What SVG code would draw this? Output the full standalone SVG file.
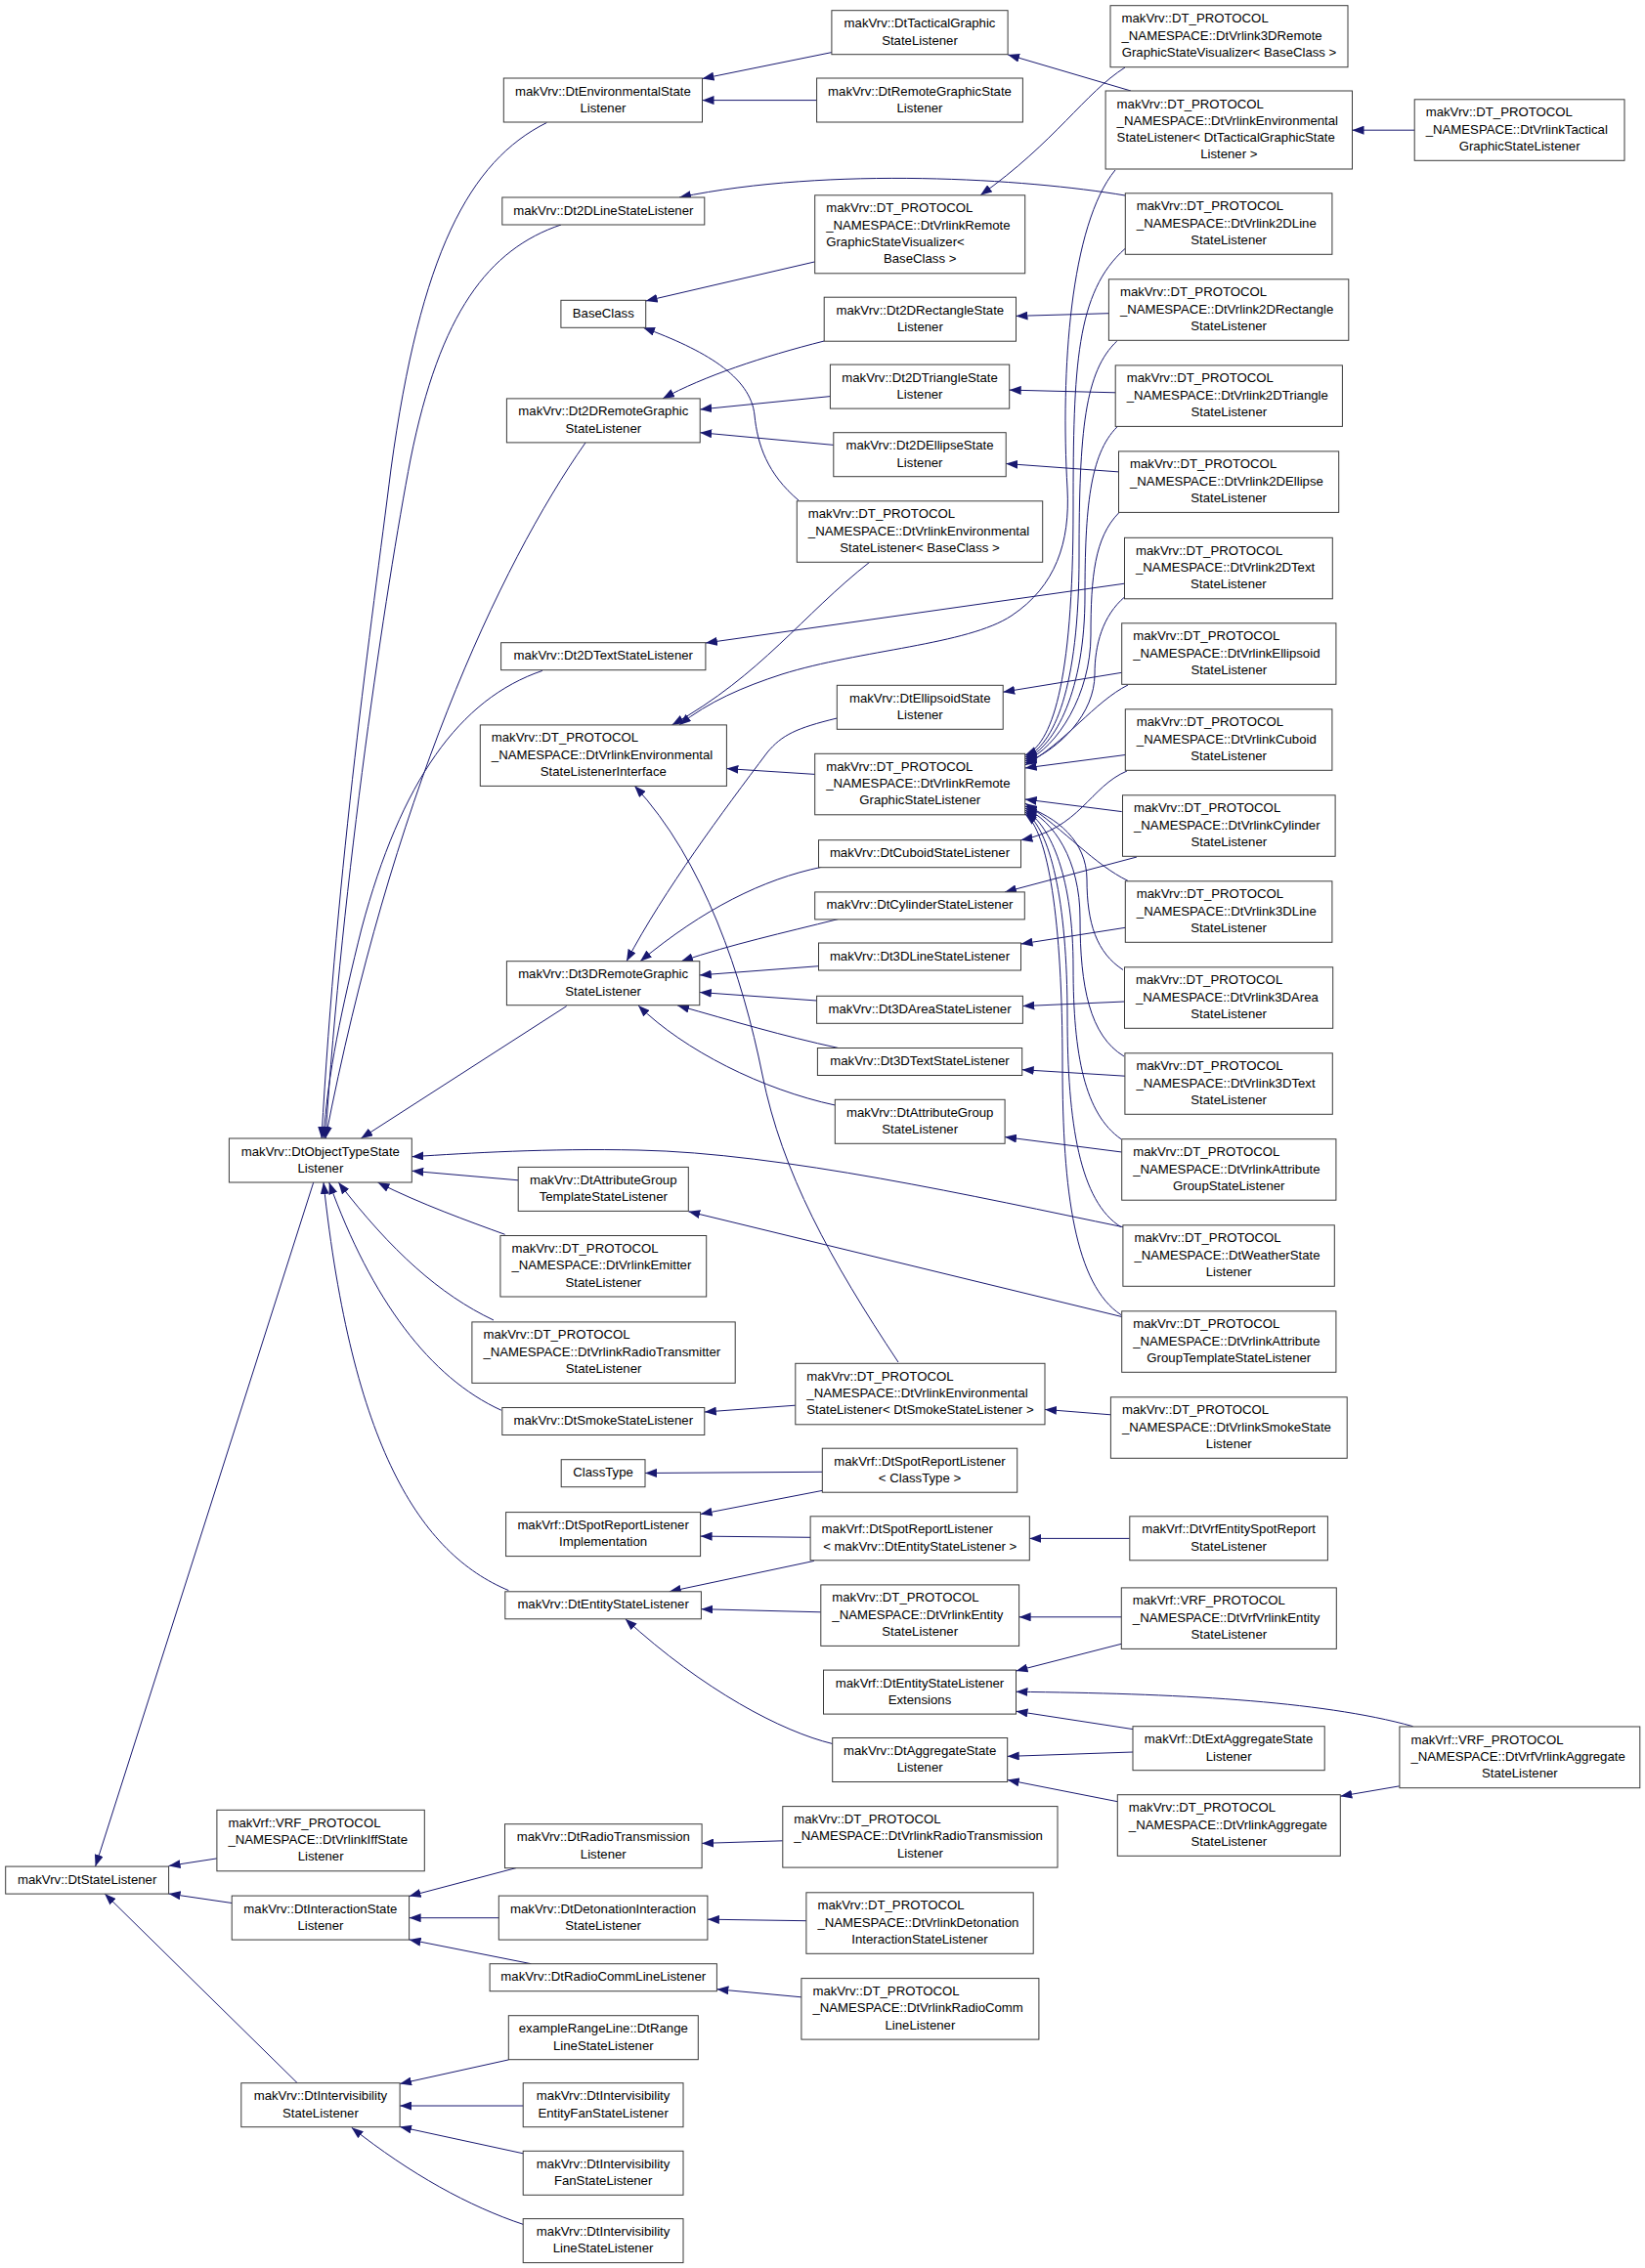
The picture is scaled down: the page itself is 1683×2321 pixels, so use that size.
<svg xmlns="http://www.w3.org/2000/svg" width="1683" height="2321" viewBox="0 0 1683 2321">
<style>
.n rect{fill:#fff;stroke:#3a3a3a;stroke-width:1}
.n text{font-family:"Liberation Sans",Arial,Helvetica,sans-serif;font-size:13.2px;fill:#000}
.n text.c{text-anchor:middle}
#edges path{fill:none;stroke:#191970;stroke-width:1;marker-end:url(#a)}
</style>
<defs>
<marker id="a" markerUnits="userSpaceOnUse" markerWidth="12" markerHeight="9" refX="12" refY="4.5" orient="auto" viewBox="0 0 12 9"><path d="M0,0 L12,4.5 L0,9 z" fill="#191970"/></marker>
</defs>
<rect width="1683" height="2321" fill="#fff"/>
<g id="edges">
<path d="M850.9,53.6 L718.5,80.5"/>
<path d="M835.6,102.6 L718.5,102.6"/>
<path d="M1157,93 L1031.1,55.9"/>
<path d="M1447.2,133.2 L1383.5,133.2"/>
<path d="M1151,69 C1110,95 1080,145 1003,199.8"/>
<path d="M833.7,267.9 L660.7,308"/>
<path d="M1151,200 C1050,183 850,170 695,202"/>
<path d="M817,512 C785,485 775,455 772,425 C768,385 720,358 658,335.2"/>
<path d="M843.2,349 C780,365 720,385 678,407.9"/>
<path d="M849.4,405.6 L716.2,419"/>
<path d="M852.8,455.4 L716.2,442.7"/>
<path d="M1134.4,320.7 L1039.5,323.4"/>
<path d="M1141.2,401.8 L1032.7,399.1"/>
<path d="M1144.5,482.9 L1029.2,474.5"/>
<path d="M1150.5,597.2 L721.9,658"/>
<path d="M1147.7,688.3 L1026.2,708.2"/>
<path d="M1153,789 C1115,805 1105,848 1044.5,859.7"/>
<path d="M1163,877 L1028,912.9"/>
<path d="M1151.3,949.3 L1044.5,966"/>
<path d="M1150.5,1025 L1046.4,1029.6"/>
<path d="M1151,1101.2 L1045.7,1094.7"/>
<path d="M1147.7,1179 L1028.1,1163.6"/>
<path d="M1149,1255.7 C1000,1225 800,1180 653,1177 C560,1175 480,1180 421.3,1183.7"/>
<path d="M1147.7,1347.5 L704.3,1239.8"/>
<path d="M530.2,1207.8 L421.3,1198.3"/>
<path d="M516.6,1263.3 C480,1250 430,1232 386.5,1210.1"/>
<path d="M505,1351 C450,1325 400,1280 346.3,1210.1"/>
<path d="M512.8,1443.2 C440,1410 380,1330 336.7,1210.1"/>
<path d="M520.4,1627.6 C430,1590 360,1480 331,1210.1"/>
<path d="M320.7,1210.1 L97.6,1910.1"/>
<path d="M221.9,1901.9 L172.6,1909.5"/>
<path d="M237.2,1947.5 L172.6,1938"/>
<path d="M304.2,2131.7 L107.1,1937.9"/>
<path d="M528,1911.6 L418.6,1940.5"/>
<path d="M510.8,1962.7 L418.6,1962.7"/>
<path d="M543.4,2009.7 L418.6,1984.9"/>
<path d="M520.4,2107.9 L409.1,2132.5"/>
<path d="M535.7,2155 L409.1,2155"/>
<path d="M535.7,2203.9 L409.1,2176.5"/>
<path d="M535.7,2276.5 C480,2258 420,2225 359.7,2177.2"/>
<path d="M800.8,1883.8 L718.1,1886.4"/>
<path d="M824.9,1965.7 L723.9,1964.2"/>
<path d="M819.9,2043.8 L733.4,2035.7"/>
<path d="M559.4,125.5 C480,165 430,260 400,480 C380,640 345,880 329,1165"/>
<path d="M574,230 C500,255 450,320 420,470 C395,600 350,900 333,1165"/>
<path d="M599,453 C510,580 400,820 333,1165"/>
<path d="M554.9,686.4 C470,715 410,800 370,950 C350,1030 335,1100 331,1165"/>
<path d="M579.7,1029.6 L369.3,1165"/>
<path d="M833.7,792.4 L743.4,786.6"/>
<path d="M890,575 C820,630 780,690 687.5,741.9"/>
<path d="M1141,174 C1095,230 1085,380 1092,500 C1095,555 1080,600 1035,630 C990,660 880,665 800,690 C760,703 725,718 695,741.9"/>
<path d="M919,1394 C850,1290 800,1200 780,1100 C760,1000 720,880 649.2,804.2"/>
<path d="M856.3,735 C815,745 800,752 785,770 C740,830 680,910 641,983.7"/>
<path d="M840.6,887.3 C780,900 720,930 655,983.7"/>
<path d="M857.8,940.5 C800,955 750,966 697,983.7"/>
<path d="M837.5,988.7 L715.8,997.9"/>
<path d="M835.6,1024 L715.8,1015.5"/>
<path d="M857.8,1072.5 C800,1060 750,1045 693.2,1028.9"/>
<path d="M854.3,1131 C780,1115 700,1075 653,1028.9"/>
<path d="M813.8,1438.2 L720.8,1445"/>
<path d="M1136.4,1447.8 L1069,1442.4"/>
<path d="M841.3,1506.3 L660,1507.5"/>
<path d="M841.3,1525.4 L716.6,1549.5"/>
<path d="M829.1,1573.3 L716.6,1572.1"/>
<path d="M832.9,1597.4 L684.8,1628.8"/>
<path d="M1155.8,1574.4 L1053.3,1574.4"/>
<path d="M839.8,1649.8 L717.4,1646.7"/>
<path d="M1147.3,1654.8 L1042.6,1654.8"/>
<path d="M1147.3,1682.3 L1039.5,1710"/>
<path d="M1445.6,1766.7 C1350,1740 1200,1733 1039.5,1731.3"/>
<path d="M1159,1769.6 L1039.5,1751.2"/>
<path d="M851.7,1784.5 C800,1772 720,1730 639.7,1656.7"/>
<path d="M1159,1793 L1030.7,1797.4"/>
<path d="M1143.3,1843.7 L1030.7,1821.5"/>
<path d="M1431.9,1827.8 L1371.3,1838.2"/>
<path d="M1151,254.5 C1101,299 1098,375 1098,520 C1098,704 1075,762 1048.7,773"/>
<path d="M1142.8,349 C1110,380 1104,440 1104,570 C1104,705 1078,763 1048.7,775"/>
<path d="M1142.8,437 C1115,465 1110,520 1110,610 C1110,706 1080,764 1048.7,777"/>
<path d="M1144.5,525 C1120,550 1116,590 1116,650 C1116,710 1082,765 1048.7,779"/>
<path d="M1151,610.6 C1128,630 1120,660 1120,690 C1120,730 1085,766 1048.7,781"/>
<path d="M1154,701 C1120,718 1090,760 1048.7,783"/>
<path d="M1151.3,772.5 L1048.7,786"/>
<path d="M1147.7,830.6 L1048.7,818"/>
<path d="M1154,901.4 C1120,885 1090,850 1048.7,822"/>
<path d="M1149,992.5 C1122,975 1112,945 1112,900 C1112,860 1080,836 1048.7,825"/>
<path d="M1150,1081 C1115,1060 1105,1010 1105,940 C1105,880 1078,840 1048.7,827"/>
<path d="M1147,1165.7 C1110,1140 1098,1080 1098,990 C1098,900 1076,845 1048.7,829"/>
<path d="M1147,1255.7 C1105,1230 1092,1150 1092,1040 C1092,920 1074,848 1048.7,831"/>
<path d="M1147,1345.6 C1100,1315 1087,1220 1087,1090 C1087,940 1072,850 1048.7,833"/>
</g>
<g id="n1" class="n"><rect x="850.9" y="10.7" width="180.2" height="45"/><text class="c" x="941" y="28.2">makVrv::DtTacticalGraphic</text><text class="c" x="941" y="45.5">StateListener</text></g>
<g id="n2" class="n"><rect x="515.3" y="80" width="203.2" height="45"/><text class="c" x="616.9" y="97.5">makVrv::DtEnvironmentalState</text><text class="c" x="616.9" y="114.8">Listener</text></g>
<g id="n3" class="n"><rect x="835.6" y="80" width="210.8" height="45"/><text class="c" x="941" y="97.5">makVrv::DtRemoteGraphicState</text><text class="c" x="941" y="114.8">Listener</text></g>
<g id="n4" class="n"><rect x="513.8" y="202" width="207" height="28"/><text class="c" x="617.3" y="219.5">makVrv::Dt2DLineStateListener</text></g>
<g id="n5" class="n"><rect x="833.7" y="199.8" width="215" height="80"/><text x="845.2" y="217.3">makVrv::DT_PROTOCOL</text><text x="845.2" y="234.6">_NAMESPACE::DtVrlinkRemote</text><text x="845.2" y="251.9">GraphicStateVisualizer&lt;</text><text class="c" x="941.2" y="269.2">BaseClass &gt;</text></g>
<g id="n6" class="n"><rect x="573.9" y="307.3" width="86.8" height="28"/><text class="c" x="617.3" y="324.8">BaseClass</text></g>
<g id="n7" class="n"><rect x="843.2" y="304.2" width="196.3" height="45"/><text class="c" x="941.35" y="321.7">makVrv::Dt2DRectangleState</text><text class="c" x="941.35" y="339">Listener</text></g>
<g id="n8" class="n"><rect x="518.4" y="407.9" width="197.8" height="45"/><text class="c" x="617.3" y="425.4">makVrv::Dt2DRemoteGraphic</text><text class="c" x="617.3" y="442.7">StateListener</text></g>
<g id="n9" class="n"><rect x="849.4" y="373.1" width="183.3" height="45"/><text class="c" x="941" y="390.6">makVrv::Dt2DTriangleState</text><text class="c" x="941" y="407.9">Listener</text></g>
<g id="n10" class="n"><rect x="852.8" y="442.7" width="176.4" height="45"/><text class="c" x="941" y="460.2">makVrv::Dt2DEllipseState</text><text class="c" x="941" y="477.5">Listener</text></g>
<g id="n11" class="n"><rect x="815.3" y="512.8" width="251.4" height="62.5"/><text x="826.8" y="530.3">makVrv::DT_PROTOCOL</text><text x="826.8" y="547.6">_NAMESPACE::DtVrlinkEnvironmental</text><text class="c" x="941" y="564.9">StateListener&lt; BaseClass &gt;</text></g>
<g id="n12" class="n"><rect x="1136" y="5.7" width="243" height="63"/><text x="1147.5" y="23.2">makVrv::DT_PROTOCOL</text><text x="1147.5" y="40.5">_NAMESPACE::DtVrlink3DRemote</text><text class="c" x="1257.5" y="57.8">GraphicStateVisualizer&lt; BaseClass &gt;</text></g>
<g id="n13" class="n"><rect x="1131.1" y="93" width="252.4" height="80"/><text x="1142.6" y="110.5">makVrv::DT_PROTOCOL</text><text x="1142.6" y="127.8">_NAMESPACE::DtVrlinkEnvironmental</text><text x="1142.6" y="145.1">StateListener&lt; DtTacticalGraphicState</text><text class="c" x="1257.3" y="162.4">Listener &gt;</text></g>
<g id="n14" class="n"><rect x="1447.2" y="101.8" width="214.8" height="62.5"/><text x="1458.7" y="119.3">makVrv::DT_PROTOCOL</text><text x="1458.7" y="136.6">_NAMESPACE::DtVrlinkTactical</text><text class="c" x="1554.6" y="153.9">GraphicStateListener</text></g>
<g id="n15" class="n"><rect x="1151.3" y="197.8" width="211.6" height="62.5"/><text x="1162.8" y="215.3">makVrv::DT_PROTOCOL</text><text x="1162.8" y="232.6">_NAMESPACE::DtVrlink2DLine</text><text class="c" x="1257.1" y="249.9">StateListener</text></g>
<g id="n16" class="n"><rect x="1134.4" y="285.8" width="245.4" height="62.5"/><text x="1145.9" y="303.3">makVrv::DT_PROTOCOL</text><text x="1145.9" y="320.6">_NAMESPACE::DtVrlink2DRectangle</text><text class="c" x="1257.1" y="337.9">StateListener</text></g>
<g id="n17" class="n"><rect x="1141.2" y="373.9" width="232.2" height="62.5"/><text x="1152.7" y="391.4">makVrv::DT_PROTOCOL</text><text x="1152.7" y="408.7">_NAMESPACE::DtVrlink2DTriangle</text><text class="c" x="1257.3" y="426">StateListener</text></g>
<g id="n18" class="n"><rect x="1144.5" y="461.9" width="225.2" height="62.5"/><text x="1156" y="479.4">makVrv::DT_PROTOCOL</text><text x="1156" y="496.7">_NAMESPACE::DtVrlink2DEllipse</text><text class="c" x="1257.1" y="514">StateListener</text></g>
<g id="n19" class="n"><rect x="1150.5" y="550.3" width="212.8" height="62.5"/><text x="1162" y="567.8">makVrv::DT_PROTOCOL</text><text x="1162" y="585.1">_NAMESPACE::DtVrlink2DText</text><text class="c" x="1256.9" y="602.4">StateListener</text></g>
<g id="n20" class="n"><rect x="1147.7" y="637.8" width="219.2" height="62.5"/><text x="1159.2" y="655.3">makVrv::DT_PROTOCOL</text><text x="1159.2" y="672.6">_NAMESPACE::DtVrlinkEllipsoid</text><text class="c" x="1257.3" y="689.9">StateListener</text></g>
<g id="n21" class="n"><rect x="1151.3" y="725.8" width="211.6" height="62.5"/><text x="1162.8" y="743.3">makVrv::DT_PROTOCOL</text><text x="1162.8" y="760.6">_NAMESPACE::DtVrlinkCuboid</text><text class="c" x="1257.1" y="777.9">StateListener</text></g>
<g id="n22" class="n"><rect x="1148.5" y="813.8" width="217.6" height="62.5"/><text x="1160" y="831.3">makVrv::DT_PROTOCOL</text><text x="1160" y="848.6">_NAMESPACE::DtVrlinkCylinder</text><text class="c" x="1257.3" y="865.9">StateListener</text></g>
<g id="n23" class="n"><rect x="1151.3" y="901.8" width="211.6" height="62.5"/><text x="1162.8" y="919.3">makVrv::DT_PROTOCOL</text><text x="1162.8" y="936.6">_NAMESPACE::DtVrlink3DLine</text><text class="c" x="1257.1" y="953.9">StateListener</text></g>
<g id="n24" class="n"><rect x="1150.5" y="989.8" width="213.2" height="62.5"/><text x="1162" y="1007.3">makVrv::DT_PROTOCOL</text><text x="1162" y="1024.6">_NAMESPACE::DtVrlink3DArea</text><text class="c" x="1257.1" y="1041.9">StateListener</text></g>
<g id="n25" class="n"><rect x="1150.9" y="1077.8" width="212.4" height="62.5"/><text x="1162.4" y="1095.3">makVrv::DT_PROTOCOL</text><text x="1162.4" y="1112.6">_NAMESPACE::DtVrlink3DText</text><text class="c" x="1257.1" y="1129.9">StateListener</text></g>
<g id="n26" class="n"><rect x="1147.7" y="1165.7" width="219.2" height="62.5"/><text x="1159.2" y="1183.2">makVrv::DT_PROTOCOL</text><text x="1159.2" y="1200.5">_NAMESPACE::DtVrlinkAttribute</text><text class="c" x="1257.3" y="1217.8">GroupStateListener</text></g>
<g id="n27" class="n"><rect x="1148.9" y="1253.8" width="216.4" height="62.5"/><text x="1160.4" y="1271.3">makVrv::DT_PROTOCOL</text><text x="1160.4" y="1288.6">_NAMESPACE::DtWeatherState</text><text class="c" x="1257.1" y="1305.9">Listener</text></g>
<g id="n28" class="n"><rect x="1147.7" y="1341.8" width="219.2" height="62.5"/><text x="1159.2" y="1359.3">makVrv::DT_PROTOCOL</text><text x="1159.2" y="1376.6">_NAMESPACE::DtVrlinkAttribute</text><text class="c" x="1257.3" y="1393.9">GroupTemplateStateListener</text></g>
<g id="n29" class="n"><rect x="1136.4" y="1429.8" width="241.8" height="62.5"/><text x="1147.9" y="1447.3">makVrv::DT_PROTOCOL</text><text x="1147.9" y="1464.6">_NAMESPACE::DtVrlinkSmokeState</text><text class="c" x="1257.3" y="1481.9">Listener</text></g>
<g id="n30" class="n"><rect x="1155.8" y="1551.8" width="202.6" height="45"/><text class="c" x="1257.1" y="1569.3">makVrf::DtVrfEntitySpotReport</text><text class="c" x="1257.1" y="1586.6">StateListener</text></g>
<g id="n31" class="n"><rect x="1147.3" y="1624.9" width="220" height="62.5"/><text x="1158.8" y="1642.4">makVrf::VRF_PROTOCOL</text><text x="1158.8" y="1659.7">_NAMESPACE::DtVrfVrlinkEntity</text><text class="c" x="1257.3" y="1677">StateListener</text></g>
<g id="n32" class="n"><rect x="1159" y="1766.7" width="196.2" height="45"/><text class="c" x="1257.1" y="1784.2">makVrf::DtExtAggregateState</text><text class="c" x="1257.1" y="1801.5">Listener</text></g>
<g id="n33" class="n"><rect x="1431.9" y="1767" width="245.9" height="62.7"/><text x="1443.4" y="1784.5">makVrf::VRF_PROTOCOL</text><text x="1443.4" y="1801.8">_NAMESPACE::DtVrfVrlinkAggregate</text><text class="c" x="1554.85" y="1819.1">StateListener</text></g>
<g id="n34" class="n"><rect x="1143.3" y="1836.7" width="228" height="62.6"/><text x="1154.8" y="1854.2">makVrv::DT_PROTOCOL</text><text x="1154.8" y="1871.5">_NAMESPACE::DtVrlinkAggregate</text><text class="c" x="1257.3" y="1888.8">StateListener</text></g>
<g id="n35" class="n"><rect x="512.6" y="657.7" width="209.3" height="28"/><text class="c" x="617.25" y="675.2">makVrv::Dt2DTextStateListener</text></g>
<g id="n36" class="n"><rect x="491.3" y="741.9" width="252.1" height="62.5"/><text x="502.8" y="759.4">makVrv::DT_PROTOCOL</text><text x="502.8" y="776.7">_NAMESPACE::DtVrlinkEnvironmental</text><text class="c" x="617.35" y="794">StateListenerInterface</text></g>
<g id="n37" class="n"><rect x="856.3" y="701.3" width="169.9" height="45"/><text class="c" x="941.25" y="718.8">makVrv::DtEllipsoidState</text><text class="c" x="941.25" y="736.1">Listener</text></g>
<g id="n38" class="n"><rect x="833.7" y="771.3" width="215" height="62.5"/><text x="845.2" y="788.8">makVrv::DT_PROTOCOL</text><text x="845.2" y="806.1">_NAMESPACE::DtVrlinkRemote</text><text class="c" x="941.2" y="823.4">GraphicStateListener</text></g>
<g id="n39" class="n"><rect x="837.5" y="859.7" width="207" height="28"/><text class="c" x="941" y="877.2">makVrv::DtCuboidStateListener</text></g>
<g id="n40" class="n"><rect x="833.7" y="912.9" width="214.6" height="28"/><text class="c" x="941" y="930.4">makVrv::DtCylinderStateListener</text></g>
<g id="n41" class="n"><rect x="837.5" y="965" width="207" height="28"/><text class="c" x="941" y="982.5">makVrv::Dt3DLineStateListener</text></g>
<g id="n42" class="n"><rect x="518.4" y="983.7" width="197.4" height="45"/><text class="c" x="617.1" y="1001.2">makVrv::Dt3DRemoteGraphic</text><text class="c" x="617.1" y="1018.5">StateListener</text></g>
<g id="n43" class="n"><rect x="835.6" y="1019.3" width="210.8" height="28"/><text class="c" x="941" y="1036.8">makVrv::Dt3DAreaStateListener</text></g>
<g id="n44" class="n"><rect x="836.4" y="1072.5" width="209.3" height="28"/><text class="c" x="941" y="1090">makVrv::Dt3DTextStateListener</text></g>
<g id="n45" class="n"><rect x="854.3" y="1125.3" width="173.8" height="45"/><text class="c" x="941.2" y="1142.8">makVrv::DtAttributeGroup</text><text class="c" x="941.2" y="1160.1">StateListener</text></g>
<g id="n46" class="n"><rect x="234.4" y="1165" width="186.9" height="45"/><text class="c" x="327.85" y="1182.5">makVrv::DtObjectTypeState</text><text class="c" x="327.85" y="1199.8">Listener</text></g>
<g id="n47" class="n"><rect x="530.2" y="1194.4" width="174.1" height="45"/><text class="c" x="617.25" y="1211.9">makVrv::DtAttributeGroup</text><text class="c" x="617.25" y="1229.2">TemplateStateListener</text></g>
<g id="n48" class="n"><rect x="511.9" y="1264.5" width="210.8" height="62.5"/><text x="523.4" y="1282">makVrv::DT_PROTOCOL</text><text x="523.4" y="1299.3">_NAMESPACE::DtVrlinkEmitter</text><text class="c" x="617.3" y="1316.6">StateListener</text></g>
<g id="n49" class="n"><rect x="482.9" y="1352.9" width="269.3" height="62.5"/><text x="494.4" y="1370.4">makVrv::DT_PROTOCOL</text><text x="494.4" y="1387.7">_NAMESPACE::DtVrlinkRadioTransmitter</text><text class="c" x="617.55" y="1405">StateListener</text></g>
<g id="n50" class="n"><rect x="513.8" y="1440.5" width="207" height="28"/><text class="c" x="617.3" y="1458">makVrv::DtSmokeStateListener</text></g>
<g id="n51" class="n"><rect x="813.8" y="1395.3" width="255.2" height="62.5"/><text x="825.3" y="1412.8">makVrv::DT_PROTOCOL</text><text x="825.3" y="1430.1">_NAMESPACE::DtVrlinkEnvironmental</text><text class="c" x="941.4" y="1447.4">StateListener&lt; DtSmokeStateListener &gt;</text></g>
<g id="n52" class="n"><rect x="574.2" y="1493.7" width="85.8" height="28"/><text class="c" x="617.1" y="1511.2">ClassType</text></g>
<g id="n53" class="n"><rect x="841.3" y="1482.2" width="199.4" height="45"/><text class="c" x="941" y="1499.7">makVrf::DtSpotReportListener</text><text class="c" x="941" y="1517">&lt; ClassType &gt;</text></g>
<g id="n54" class="n"><rect x="517.6" y="1547.6" width="199" height="45"/><text class="c" x="617.1" y="1565.1">makVrf::DtSpotReportListener</text><text class="c" x="617.1" y="1582.4">Implementation</text></g>
<g id="n55" class="n"><rect x="829.1" y="1551.8" width="224.2" height="45"/><text x="840.6" y="1569.3">makVrf::DtSpotReportListener</text><text class="c" x="941.2" y="1586.6">&lt; makVrv::DtEntityStateListener &gt;</text></g>
<g id="n56" class="n"><rect x="516.8" y="1628.8" width="200.6" height="28"/><text class="c" x="617.1" y="1646.3">makVrv::DtEntityStateListener</text></g>
<g id="n57" class="n"><rect x="839.8" y="1621.9" width="202.8" height="62.5"/><text x="851.3" y="1639.4">makVrv::DT_PROTOCOL</text><text x="851.3" y="1656.7">_NAMESPACE::DtVrlinkEntity</text><text class="c" x="941.2" y="1674">StateListener</text></g>
<g id="n58" class="n"><rect x="842.5" y="1709.1" width="197" height="45"/><text class="c" x="941" y="1726.6">makVrf::DtEntityStateListener</text><text class="c" x="941" y="1743.9">Extensions</text></g>
<g id="n59" class="n"><rect x="851.7" y="1778.5" width="179" height="45"/><text class="c" x="941.2" y="1796">makVrv::DtAggregateState</text><text class="c" x="941.2" y="1813.3">Listener</text></g>
<g id="n60" class="n"><rect x="516.5" y="1866.7" width="201.6" height="45"/><text class="c" x="617.3" y="1884.2">makVrv::DtRadioTransmission</text><text class="c" x="617.3" y="1901.5">Listener</text></g>
<g id="n61" class="n"><rect x="800.8" y="1848.6" width="281.2" height="62.5"/><text x="812.3" y="1866.1">makVrv::DT_PROTOCOL</text><text x="812.3" y="1883.4">_NAMESPACE::DtVrlinkRadioTransmission</text><text class="c" x="941.4" y="1900.7">Listener</text></g>
<g id="n62" class="n"><rect x="510.3" y="1940.1" width="213.6" height="45"/><text class="c" x="617.1" y="1957.6">makVrv::DtDetonationInteraction</text><text class="c" x="617.1" y="1974.9">StateListener</text></g>
<g id="n63" class="n"><rect x="824.9" y="1936.8" width="232.3" height="62.5"/><text x="836.4" y="1954.3">makVrv::DT_PROTOCOL</text><text x="836.4" y="1971.6">_NAMESPACE::DtVrlinkDetonation</text><text class="c" x="941" y="1988.9">InteractionStateListener</text></g>
<g id="n64" class="n"><rect x="501.1" y="2009.7" width="232.3" height="28"/><text class="c" x="617.25" y="2027.2">makVrv::DtRadioCommLineListener</text></g>
<g id="n65" class="n"><rect x="819.9" y="2024.6" width="243" height="62.5"/><text x="831.4" y="2042.1">makVrv::DT_PROTOCOL</text><text x="831.4" y="2059.4">_NAMESPACE::DtVrlinkRadioComm</text><text class="c" x="941.4" y="2076.7">LineListener</text></g>
<g id="n66" class="n"><rect x="520.3" y="2062.7" width="194" height="45"/><text class="c" x="617.3" y="2080.2">exampleRangeLine::DtRange</text><text class="c" x="617.3" y="2097.5">LineStateListener</text></g>
<g id="n67" class="n"><rect x="535.2" y="2131.7" width="163.8" height="45"/><text class="c" x="617.1" y="2149.2">makVrv::DtIntervisibility</text><text class="c" x="617.1" y="2166.5">EntityFanStateListener</text></g>
<g id="n68" class="n"><rect x="535.2" y="2201.3" width="163.8" height="45"/><text class="c" x="617.1" y="2218.8">makVrv::DtIntervisibility</text><text class="c" x="617.1" y="2236.1">FanStateListener</text></g>
<g id="n69" class="n"><rect x="535.2" y="2270.6" width="163.8" height="45"/><text class="c" x="617.1" y="2288.1">makVrv::DtIntervisibility</text><text class="c" x="617.1" y="2305.4">LineStateListener</text></g>
<g id="n70" class="n"><rect x="5.7" y="1910.1" width="166.9" height="28"/><text class="c" x="89.15" y="1927.6">makVrv::DtStateListener</text></g>
<g id="n71" class="n"><rect x="221.9" y="1852.3" width="212.4" height="62.5"/><text x="233.4" y="1869.8">makVrf::VRF_PROTOCOL</text><text x="233.4" y="1887.1">_NAMESPACE::DtVrlinkIffState</text><text class="c" x="328.1" y="1904.4">Listener</text></g>
<g id="n72" class="n"><rect x="237.2" y="1940.1" width="181.4" height="45"/><text class="c" x="327.9" y="1957.6">makVrv::DtInteractionState</text><text class="c" x="327.9" y="1974.9">Listener</text></g>
<g id="n73" class="n"><rect x="246.8" y="2131.7" width="162.3" height="45"/><text class="c" x="327.95" y="2149.2">makVrv::DtIntervisibility</text><text class="c" x="327.95" y="2166.5">StateListener</text></g>
</svg>
